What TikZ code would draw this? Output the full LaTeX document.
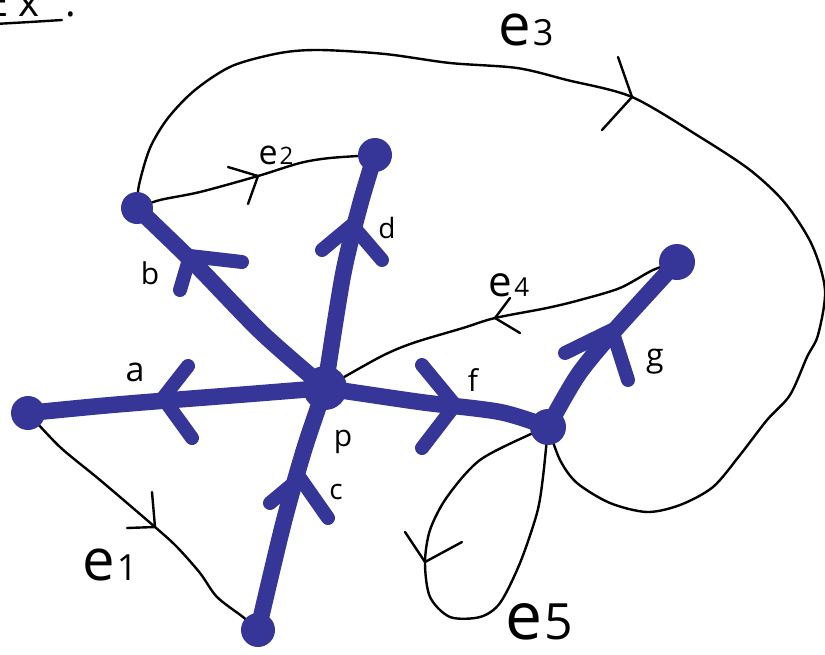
\documentclass[tikz,border=0pt]{standalone}
\usepackage{fontspec}
\setmainfont{Open Sans}
\definecolor{pen}{RGB}{54,54,153}
\pgfdeclarelayer{bg}
\pgfsetlayers{bg,main}
\newcommand{\elab}[3]{{\fontsize{#1}{#1}\selectfont e}\hspace{2pt}{\fontsize{#2}{#2}\selectfont #3}}
\begin{document}
\begin{tikzpicture}[x=1pt,y=-1pt,
  blue edge/.style={draw=pen,line width=16.5pt,line cap=round,line join=round},
  blue tip/.style={draw=pen,line width=14pt,line cap=round,line join=round},
  thin edge/.style={draw=black,line width=2.4pt,line cap=round,line join=round},
  dot/.style={circle,fill=pen,inner sep=0pt,minimum size=#1},
  lab/.style={inner sep=0pt,font=\fontsize{#1}{#1}\selectfont}]
\useasboundingbox (0,0) rectangle (825,654);

% vertices
\node[dot=44pt] (P) at (325,388) {};
\node[dot=34pt] (A) at (28,413) {};
\node[dot=34pt] (C) at (258,630) {};
\node[dot=32pt] (B) at (137,208) {};
\node[dot=34pt] (D) at (375,155) {};
\node[dot=36pt] (G) at (677,262) {};
\node[dot=36pt] (F) at (548,427) {};

% labels
\node[lab=34pt] (la) at (135,372) {a};
\node[lab=30pt] (lb) at (150,273) {b};
\node[lab=28pt] (lc) at (336,492) {c};
\node[lab=28pt] (ld) at (387,228) {d};
\node[lab=30pt] (lf) at (473,380) {f};
\node[lab=32pt] (lg) at (655,362) {g};
\node[lab=30pt] (lp) at (343,442) {p};
\node[inner sep=0pt] (le1) at (110,565) {\elab{58pt}{36pt}{1}};
\node[inner sep=0pt] (le2) at (276,155) {\elab{34pt}{24pt}{2}};
\node[inner sep=0pt] (le3) at (526,30) {\elab{58pt}{36pt}{3}};
\node[inner sep=0pt] (le4) at (509,285) {\elab{42pt}{26pt}{4}};
\node[inner sep=0pt] (le5) at (539,622) {\elab{66pt}{50pt}{5}};

% title (cropped at the top edge, as in the reference)
\node[lab=40pt,anchor=base west] (ex) at (-14,16) {E\hspace{10pt}x\hspace{26pt}:};
\draw[thin edge] (-5,24) -- (30,22) -- (62,20);

\begin{pgfonlayer}{bg}
% thin edges
\draw[thin edge] plot[smooth] coordinates {(A.center) (60,447) (100,480) (155,527) (177,547) (200,573) (217,597) (243,617) (C.center)};
\draw[thin edge] plot[smooth] coordinates {(B.center) (160,200) (200,192) (258,176) (300,163) (330,158) (D.center)};
\draw[thin edge] plot[smooth] coordinates {(B.center) (139,185) (150,148) (168,118) (195,90) (232,66) (280,53) (320,50) (385,54) (450,63) (517,68) (567,80) (632,97) (700,137) (750,170) (785,203) (812,245) (825,290) (818,335) (807,357) (790,395) (767,420) (740,455) (713,487) (680,505) (647,512) (610,503) (577,483) (560,460) (F.center)};
\draw[thin edge] plot[smooth] coordinates {(P.center) (380,357) (413,343) (463,328) (495,318) (547,308) (580,300) (620,288) (653,270) (G.center)};
\draw[thin edge] plot[smooth] coordinates {(F.center) (533,433) (480,460) (447,497) (430,530) (425,563) (430,597) (450,617) (480,617) (500,603) (520,563) (537,513) (543,477) (F.center)};
% thin arrow marks
\draw[thin edge] (152,492) -- (155,527) -- (127,528);
\draw[thin edge] (228,167) -- (258,176) -- (248,204);
\draw[thin edge] (618,57) -- (632,97) -- (602,130);
\draw[thin edge] (510,298) -- (495,318) -- (520,333);
\draw[thin edge] (405,532) -- (425,562) -- (462,542);

% blue edges
\draw[blue edge] plot[smooth] coordinates {(P.center) (250,394) (160,401) (100,406) (A.center)};
\draw[blue edge] plot[smooth] coordinates {(P.center) (262,333) (195,264) (B.center)};
\draw[blue edge] plot[smooth] coordinates {(P.center) (343,275) (360,205) (D.center)};
\draw[blue edge] plot[smooth] coordinates {(C.center) (283,525) (304,450) (P.center)};
\draw[blue edge] plot[smooth] coordinates {(P.center) (420,402) (500,412) (F.center)};
\draw[blue edge] plot[smooth] coordinates {(F.center) (578,375) (615,330) (G.center)};
% blue arrow marks
\draw[blue tip] (188,366) -- (163,398) -- (192,438);
\draw[blue tip] (180,290) -- (190,256) -- (242,262);
\draw[blue tip] (322,250) -- (352,225) -- (382,260);
\draw[blue tip] (270,503) -- (300,478) -- (328,518);
\draw[blue tip] (422,365) -- (455,405) -- (422,448);
\draw[blue tip] (565,353) -- (612,330) -- (628,380);
\end{pgfonlayer}
\end{tikzpicture}
\end{document}
